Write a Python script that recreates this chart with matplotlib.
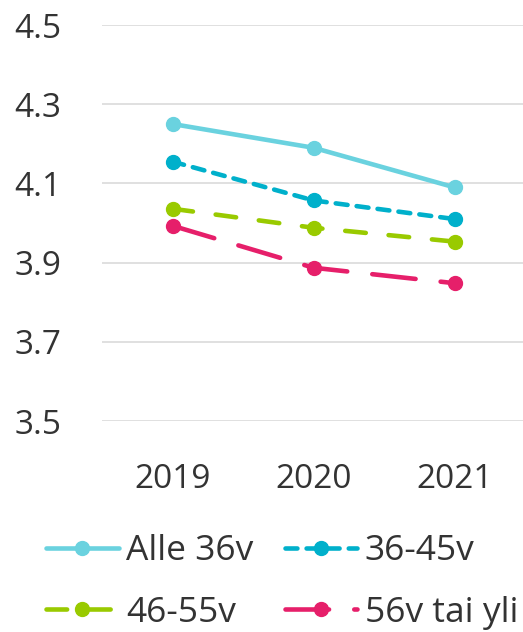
import matplotlib.pyplot as plt

plt.rcParams['font.family'] = ['Open Sans', 'DejaVu Sans']

years = ['2019', '2020', '2021']
labels = ['Alle 36v', '36-45v', '46-55v', '56v tai yli']
alle_36 = [4.25, 4.19, 4.09]
v36_45 = [4.155, 4.057, 4.01]
v46_55 = [4.036, 3.988, 3.953]
v56 = [3.993, 3.887, 3.848]
y_ticks = [3.5, 3.7, 3.9, 4.1, 4.3, 4.5]

series = [alle_36, v36_45, v46_55, v56]
colors = ['#6AD2DF', '#00B0CB', '#99CA00', '#E61F6A']
dashes = [None, (2.6, 2.0), (4.5, 5.0), (9.5, 5.5)]

fig = plt.figure(figsize=(5.23, 6.32), dpi=100)
ax = fig.add_axes([102 / 523, 1 - 421 / 632, 423 / 523, 396 / 632])

handles = []
for vals, lab, col, ds in zip(series, labels, colors, dashes):
    line, = ax.plot(range(len(years)), vals, color=col, lw=3.3, marker='o',
                    markersize=10, label=lab, solid_capstyle='round',
                    dash_capstyle='round')
    if ds is not None:
        line.set_dashes(ds)
    handles.append(line)

ax.set_xlim(-0.5, 2.5)
ax.set_ylim(3.5, 4.5)
ax.set_yticks(y_ticks)
ax.set_yticklabels([f'{t:.1f}' for t in y_ticks])
ax.set_xticks(range(len(years)))
ax.set_xticklabels(years)
ax.grid(axis='y', color='#DDDDDD', lw=1.3)
ax.set_axisbelow(True)
for s in ax.spines.values():
    s.set_visible(False)
ax.tick_params(length=0, labelsize=24, colors='#333333')
ax.tick_params(axis='y', pad=29)
ax.tick_params(axis='x', pad=30)

order = [0, 2, 1, 3]
fig.legend([handles[i] for i in order], [labels[i] for i in order],
           ncol=2, loc='lower left', bbox_to_anchor=(0.061, -0.019),
           borderaxespad=0, frameon=False, fontsize=25.5, handlelength=2.05,
           handletextpad=0.2, columnspacing=0.9, labelspacing=0.78,
           labelcolor='#333333')

fig.savefig('out.png', dpi=100)
